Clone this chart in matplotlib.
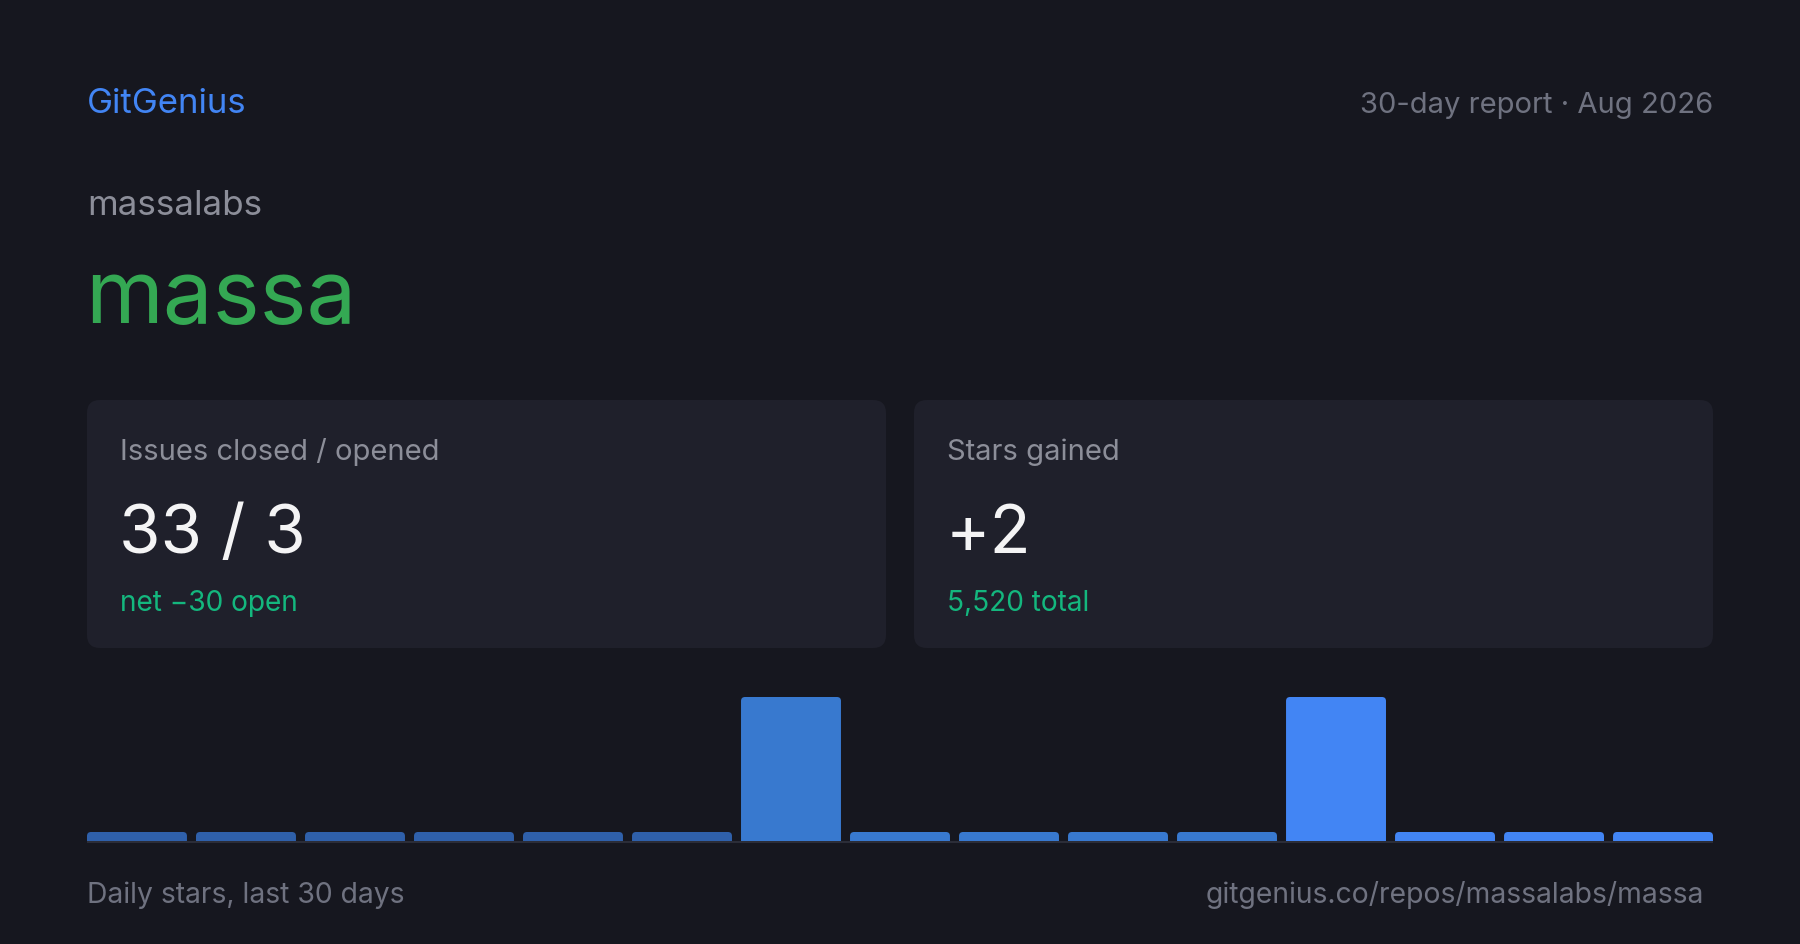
import numpy as np
import matplotlib
matplotlib.use('Agg')
import matplotlib.pyplot as plt
from matplotlib.patches import FancyBboxPatch

# DATA
brand = 'GitGenius'
report = '30-day report \u00b7 Aug 2026'
owner = 'massalabs'
repo = 'massa'
card_titles = ['Issues closed / opened', 'Stars gained']
card_values = ['33 / 3', '+2']
card_notes = ['net \u221230 open', '5,520 total']
daily_stars = [0, 0, 0, 0, 0, 0, 1, 0, 0, 0, 0, 1, 0, 0, 0]
footer_left = 'Daily stars, last 30 days'
footer_right = 'gitgenius.co/repos/massalabs/massa'

BG = '#16171f'
CARD = '#1f202b'
GRAY = '#8c8e99'
DIM = '#6f7280'
BLUE = '#4285f4'
GREEN = '#34a853'
TEAL = '#14b77e'
bar_cols = ['#2f60aa'] * 6 + ['#3879cf'] * 5 + ['#4285f4'] * 4

FONT = ['Inter', 'DejaVu Sans']
plt.rcParams['font.family'] = FONT

W, H = 1800, 945
fig = plt.figure(figsize=(W / 100, H / 100), dpi=100, facecolor=BG)

# canvas axes in pixel units (y down)
ax = fig.add_axes([0, 0, 1, 1])
ax.set_xlim(0, W)
ax.set_ylim(H, 0)
ax.axis('off')
ax.set_facecolor(BG)

L, R = 87, 1713
ax.text(L, 113, brand, color=BLUE, fontsize=25, va='baseline')
ax.text(R, 113, report, color=DIM, fontsize=21, va='baseline', ha='right')
ax.text(L, 215, owner, color=GRAY, fontsize=25.2, va='baseline')
ax.text(L - 2, 323, repo, color=GREEN, fontsize=64, va='baseline')

# cards
card_x = [87, 914]
card_w = 799
for i in range(2):
    x0 = card_x[i]
    ax.add_patch(FancyBboxPatch((x0, 401), card_w, 248,
                                boxstyle='round,pad=0,rounding_size=13',
                                fc=CARD, ec='none'))
    ax.text(x0 + 33, 460, card_titles[i], color=GRAY, fontsize=21, va='baseline')
    ax.text(x0 + 32, 553, card_values[i], color='#f4f4f5', fontsize=48.5, va='baseline')
    ax.text(x0 + 33, 611, card_notes[i], color=TEAL, fontsize=20.2, va='baseline')

# footer
ax.text(L, 903, footer_left, color=DIM, fontsize=20.4, va='baseline')
ax.text(1704, 903, footer_right, color=DIM, fontsize=20.4, va='baseline', ha='right')

# bar chart
top_px, base_px = 698, 842
bax = fig.add_axes([L / W, 1 - base_px / H, (R - L) / W, (base_px - top_px) / H])
bax.axis('off')
vals = np.array(daily_stars, dtype=float)
n = len(vals)
bw = 0.917
ymax = vals.max()
min_h = ymax * 9 / (base_px - top_px)
shown = np.maximum(vals, min_h)
bars = bax.bar(np.arange(n), shown, width=bw, color=bar_cols)
bax.set_xlim(-bw / 2, n - 1 + bw / 2)
bax.set_ylim(0, ymax)

# swap plain bars for ones with rounded tops
px_x = (n - 1 + bw) / (R - L)
px_y = ymax / (base_px - top_px)
r = 4 * px_x
for b, c in zip(bars, bar_cols):
    x, h, w = b.get_x(), b.get_height(), b.get_width()
    b.set_visible(False)
    p = FancyBboxPatch((x, -r * 2), w, h + r * 2,
                       boxstyle='round,pad=0,rounding_size=%f' % r,
                       mutation_aspect=px_y / px_x, fc=c, ec='none')
    bax.add_patch(p)

ax.plot([L, R], [843, 843], color='#2b2d38', lw=1.5, solid_capstyle='butt')

fig.savefig('out.png', dpi=100, facecolor=BG)
